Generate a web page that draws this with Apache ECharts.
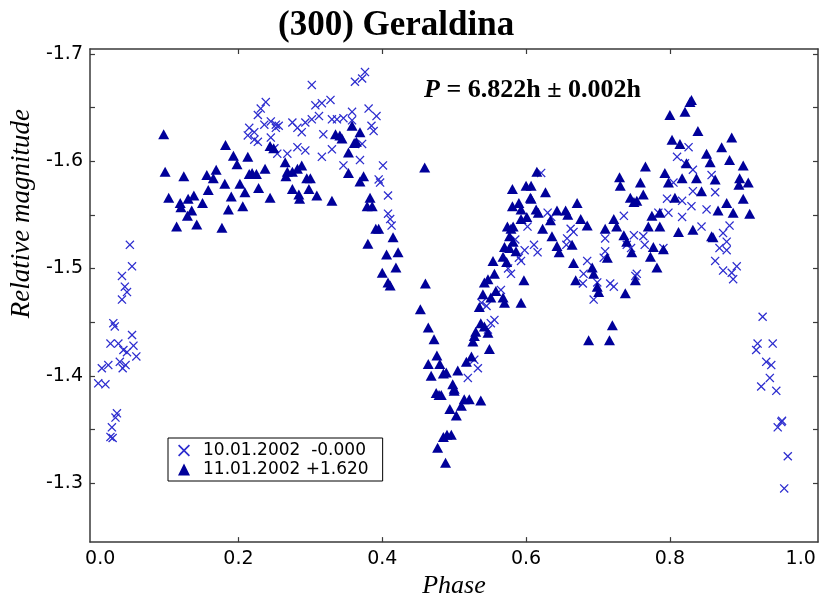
<!DOCTYPE html>
<html><head><meta charset="utf-8">
<script src="https://cdn.jsdelivr.net/npm/echarts@6/dist/echarts.min.js"></script>
<style>html,body{margin:0;padding:0;background:#fff}#c{width:823px;height:604px}</style>
</head><body><div id="c"></div>
<script>
// Series 1: 10.01.2002 -0.000 (crosses)
const crossPhase = [0.049,0.052,0.038,0.042,0.045,0.038,0.026,0.028,0.052,0.022,0.033,0.054,0.040,0.045,0.058,0.035,0.043,0.019,0.010,0.039,0.005,0.015,0.031,0.029,0.024,0.022,0.025,
0.238,0.231,0.227,0.245,0.236,0.215,0.252,0.222,0.213,0.245,0.227,0.222,0.250,0.252,0.256,0.275,0.282,0.293,0.288,0.302,0.307,0.316,0.328,0.302,0.312,0.318,0.330,0.337,0.346,0.358,0.362,0.376,0.372,0.381,0.392,0.385,0.388,0.358,0.372,0.254,0.268,0.282,0.293,0.316,0.330,0.346,0.369,0.401,0.395,0.397,0.408,0.408,0.413,0.411,
0.621,0.630,0.635,0.602,0.616,0.611,0.593,0.590,0.579,0.556,0.551,0.547,0.533,0.519,0.538,0.657,0.662,0.666,0.656,0.685,0.680,0.679,0.699,0.694,0.717,0.722,0.708,0.710,0.710,0.736,0.740,0.746,0.754,0.750,0.763,0.765,0.752,0.791,0.784,0.796,0.798,0.805,0.810,0.826,0.821,0.832,0.858,0.863,0.832,0.817,0.830,0.851,0.817,0.844,0.883,0.874,0.879,0.869,0.879,0.863,0.874,0.886,0.893,0.888,
0.585,0.598,0.575,0.565,0.545,0.528,
0.929,0.922,0.943,0.920,0.934,0.941,0.939,0.927,0.948,0.955,0.950,0.956,0.964,0.959];
const crossMag = [-1.522,-1.502,-1.493,-1.483,-1.478,-1.471,-1.449,-1.446,-1.438,-1.430,-1.430,-1.428,-1.424,-1.422,-1.418,-1.413,-1.410,-1.410,-1.407,-1.407,-1.393,-1.392,-1.365,-1.361,-1.352,-1.343,-1.342,
-1.655,-1.649,-1.643,-1.637,-1.634,-1.631,-1.631,-1.627,-1.624,-1.622,-1.618,-1.620,-1.612,-1.634,-1.633,-1.636,-1.631,-1.636,-1.627,-1.671,-1.652,-1.654,-1.657,-1.639,-1.642,-1.625,-1.639,-1.639,-1.640,-1.646,-1.674,-1.683,-1.677,-1.649,-1.642,-1.633,-1.628,-1.638,-1.616,-1.607,-1.607,-1.613,-1.610,-1.604,-1.611,-1.596,-1.601,-1.596,-1.583,-1.580,-1.568,-1.551,-1.540,-1.546,
-1.589,-1.552,-1.548,-1.539,-1.515,-1.522,-1.507,-1.510,-1.495,-1.452,-1.449,-1.443,-1.407,-1.398,-1.468,-1.528,-1.537,-1.534,-1.522,-1.507,-1.495,-1.486,-1.487,-1.471,-1.486,-1.483,-1.510,-1.516,-1.528,-1.549,-1.522,-1.519,-1.495,-1.531,-1.530,-1.522,-1.493,-1.519,-1.552,-1.565,-1.552,-1.580,-1.604,-1.613,-1.598,-1.592,-1.587,-1.571,-1.572,-1.563,-1.558,-1.555,-1.548,-1.539,-1.540,-1.533,-1.525,-1.519,-1.517,-1.507,-1.498,-1.496,-1.502,-1.490,
-1.527,-1.517,-1.500,-1.480,-1.465,-1.415,
-1.455,-1.430,-1.430,-1.424,-1.413,-1.410,-1.398,-1.390,-1.386,-1.357,-1.352,-1.358,-1.325,-1.295];

// Series 2: 11.01.2002 +1.620 (triangles)
const triPhase = [0.096,0.098,0.103,0.119,0.120,0.130,0.138,0.135,0.129,0.114,0.142,0.124,0.150,0.158,0.156,0.165,0.169,0.177,0.181,0.182,0.193,0.198,0.190,0.186,0.202,0.209,0.206,0.213,0.215,0.219,0.225,0.237,0.228,0.244,0.244,0.249,
0.265,0.268,0.266,0.275,0.288,0.282,0.275,0.284,0.285,0.295,0.300,0.298,0.309,0.330,0.335,0.341,0.344,0.358,0.369,0.364,0.361,0.353,0.353,0.374,0.369,0.383,0.379,0.386,0.395,0.391,0.380,0.415,0.406,0.422,0.419,0.400,0.408,0.411,0.459,0.460,0.453,0.464,0.472,0.476,0.464,0.480,0.468,0.485,0.489,0.475,0.479,0.482,0.498,0.500,0.505,0.494,0.503,0.485,0.490,0.477,0.488,
0.496,0.510,0.514,0.521,0.537,0.500,0.517,0.524,0.526,0.528,0.549,0.530,0.537,0.542,0.547,0.535,0.540,0.542,0.547,0.556,0.551,0.558,0.570,0.568,0.593,0.597,0.554,0.568,0.573,0.570,0.577,0.577,0.582,0.586,0.574,0.579,0.582,0.593,0.601,0.581,0.590,0.593,0.607,0.581,0.600,0.607,0.606,0.627,0.615,0.614,0.617,0.623,0.634,0.643,0.655,0.658,0.636,0.643,0.646,0.664,0.666,0.669,0.671,0.676,0.685,0.692,0.694,0.699,0.701,0.687,0.716,0.720,0.738,0.710,0.713,0.722,0.726,0.731,0.730,0.745,0.750,0.736,0.740,0.747,0.752,
0.766,0.759,0.763,0.754,0.775,0.786,0.770,0.786,0.773,0.777,0.791,0.782,0.800,0.821,0.830,0.828,0.839,0.803,0.814,0.823,0.798,0.793,0.817,0.807,0.812,0.832,0.837,0.844,0.851,0.856,0.863,0.872,0.886,0.883,0.902,0.897,0.896,0.909,0.867,0.879,0.888,0.902,0.911,0.858,0.860];
const triMag = [-1.625,-1.590,-1.566,-1.561,-1.557,-1.565,-1.568,-1.554,-1.549,-1.539,-1.541,-1.586,-1.561,-1.573,-1.587,-1.584,-1.592,-1.538,-1.579,-1.615,-1.605,-1.597,-1.567,-1.555,-1.579,-1.571,-1.558,-1.604,-1.588,-1.589,-1.588,-1.593,-1.575,-1.566,-1.614,-1.612,
-1.599,-1.590,-1.586,-1.590,-1.596,-1.593,-1.574,-1.569,-1.565,-1.584,-1.584,-1.574,-1.568,-1.563,-1.625,-1.624,-1.621,-1.633,-1.627,-1.618,-1.617,-1.608,-1.589,-1.586,-1.581,-1.566,-1.558,-1.558,-1.537,-1.537,-1.523,-1.529,-1.513,-1.515,-1.501,-1.496,-1.487,-1.484,-1.594,-1.486,-1.462,-1.445,-1.434,-1.419,-1.411,-1.411,-1.400,-1.402,-1.403,-1.384,-1.382,-1.382,-1.392,-1.388,-1.405,-1.369,-1.363,-1.343,-1.345,-1.333,-1.319,
-1.345,-1.372,-1.378,-1.378,-1.377,-1.386,-1.413,-1.418,-1.432,-1.437,-1.425,-1.441,-1.449,-1.446,-1.440,-1.464,-1.476,-1.487,-1.490,-1.495,-1.473,-1.479,-1.468,-1.473,-1.468,-1.489,-1.507,-1.511,-1.506,-1.520,-1.519,-1.530,-1.525,-1.516,-1.539,-1.537,-1.539,-1.546,-1.548,-1.558,-1.561,-1.555,-1.565,-1.574,-1.577,-1.577,-1.566,-1.571,-1.590,-1.555,-1.552,-1.537,-1.545,-1.554,-1.554,-1.550,-1.530,-1.521,-1.515,-1.522,-1.505,-1.489,-1.561,-1.546,-1.540,-1.501,-1.495,-1.483,-1.478,-1.433,-1.433,-1.447,-1.477,-1.537,-1.510,-1.546,-1.539,-1.577,-1.585,-1.566,-1.562,-1.531,-1.525,-1.515,-1.489,
-1.595,-1.580,-1.569,-1.563,-1.549,-1.552,-1.539,-1.539,-1.511,-1.520,-1.518,-1.501,-1.643,-1.646,-1.657,-1.655,-1.628,-1.620,-1.616,-1.598,-1.580,-1.589,-1.584,-1.566,-1.534,-1.536,-1.584,-1.572,-1.607,-1.599,-1.583,-1.613,-1.622,-1.601,-1.596,-1.584,-1.578,-1.580,-1.554,-1.561,-1.552,-1.565,-1.551,-1.530,-1.529];

const seriesNames = ['10.01.2002  -0.000', '11.01.2002 +1.620'];
const xLabelValues = [0.0, 0.2, 0.4, 0.6, 0.8, 1.0];
const xTickValues = [0.2, 0.4, 0.6, 0.8];
const yLabelValues = [-1.7, -1.6, -1.5, -1.4, -1.3];
const yTickValues = [-1.7, -1.65, -1.6, -1.55, -1.5, -1.45, -1.4, -1.35, -1.3];
const titleText = '(300) Geraldina';
const periodText = ' = 6.822h \u00b1 0.002h';

const crossPath = 'path://M0,1L1,0L5,4L9,0L10,1L6,5L10,9L9,10L5,6L1,10L0,9L4,5Z';
const crossColor = '#2d2dcf';
const triColor = '#00009a';
const axisColor = '#3a3a3a';
const tickFont = {fontFamily: 'DejaVu Sans', fontSize: 19, color: '#000'};

const chart = echarts.init(document.getElementById('c'), null, {renderer: 'canvas'});
const xMin = -0.0065, xMax = 1.006, yMin = -1.7045, yMax = -1.245;

chart.setOption({
  animation: false,
  backgroundColor: '#fff',
  title: [{
    text: titleText, left: 273, top: 3,
    textStyle: {fontFamily: 'Liberation Serif', fontWeight: 'bold', fontSize: 35, color: '#000'}
  }, {
    text: '{p|P}{r|' + periodText + '}', left: 419, top: 72,
    textStyle: {rich: {
      p: {fontFamily: 'Liberation Serif', fontStyle: 'italic', fontWeight: 'bold', fontSize: 26, color: '#000'},
      r: {fontFamily: 'Liberation Serif', fontWeight: 'bold', fontSize: 26, color: '#000'}
    }}
  }],
  legend: {
    orient: 'vertical', left: 168, top: 438,
    borderColor: '#000', borderWidth: 1, backgroundColor: '#fff',
    padding: [4, 14, 3, 10], itemGap: 2, itemWidth: 12, itemHeight: 12,
    textStyle: {fontFamily: 'DejaVu Sans', fontSize: 17, color: '#000', padding: [0,0,0,8]},
    data: [{name: seriesNames[0], icon: crossPath}, {name: seriesNames[1], icon: 'triangle'}]
  },
  grid: {left: 87, right: 5, top: 49, bottom: 48, containLabel: false},
  xAxis: [{
    type: 'value', min: xMin, max: xMax, position: 'bottom',
    name: 'Phase', nameLocation: 'middle', nameGap: 21,
    nameTextStyle: {fontFamily: 'Liberation Serif', fontStyle: 'italic', fontSize: 26, color: '#000'},
    axisLine: {show: true, onZero: false, lineStyle: {color: axisColor, width: 1.5}},
    axisTick: {show: true, inside: true, length: 5, customValues: xTickValues, lineStyle: {color: axisColor, width: 1.2}},
    axisLabel: {
      customValues: xLabelValues, margin: 7,
      formatter: function (v) {
        const s = v.toFixed(1);
        if (Math.abs(v) < 1e-9) return '{a|' + s + '}';
        if (Math.abs(v - 1) < 1e-9) return '{b|' + s + '}';
        return s;
      },
      rich: {a: Object.assign({padding: [0,0,0,11]}, tickFont), b: Object.assign({padding: [0,26,0,0]}, tickFont)},
      ...tickFont
    },
    splitLine: {show: false}
  }, {
    type: 'value', min: xMin, max: xMax, position: 'top',
    axisLine: {show: true, onZero: false, lineStyle: {color: axisColor, width: 1.5}},
    axisTick: {show: true, inside: true, length: 5, customValues: xTickValues, lineStyle: {color: axisColor, width: 1.2}},
    axisLabel: {show: false}, splitLine: {show: false}
  }],
  yAxis: [{
    type: 'value', min: yMin, max: yMax, inverse: true, position: 'left',
    name: 'Relative magnitude', nameLocation: 'middle', nameGap: 52,
    nameTextStyle: {fontFamily: 'Liberation Serif', fontStyle: 'italic', fontSize: 27, color: '#000', padding: [0,0,0,164]},
    axisLine: {show: true, onZero: false, lineStyle: {color: axisColor, width: 1.5}},
    axisTick: {show: true, inside: true, length: 5, customValues: yTickValues, lineStyle: {color: axisColor, width: 1.2}},
    axisLabel: {customValues: yLabelValues, margin: 7, formatter: v => v.toFixed(1), ...tickFont},
    splitLine: {show: false}
  }, {
    type: 'value', min: yMin, max: yMax, inverse: true, position: 'right',
    axisLine: {show: true, onZero: false, lineStyle: {color: axisColor, width: 1.5}},
    axisTick: {show: true, inside: true, length: 5, customValues: yTickValues, lineStyle: {color: axisColor, width: 1.2}},
    axisLabel: {show: false}, splitLine: {show: false}
  }],
  series: [{
    name: seriesNames[0], type: 'scatter', xAxisIndex: 0, yAxisIndex: 0,
    symbol: crossPath, symbolSize: 9,
    itemStyle: {color: crossColor, opacity: 1},
    data: crossPhase.map((p, i) => [p, crossMag[i]])
  }, {
    name: seriesNames[1], type: 'scatter', xAxisIndex: 0, yAxisIndex: 0,
    symbol: 'triangle', symbolSize: [11, 10],
    itemStyle: {color: triColor, opacity: 1},
    data: triPhase.map((p, i) => [p, triMag[i]])
  }]
});
</script></body></html>
